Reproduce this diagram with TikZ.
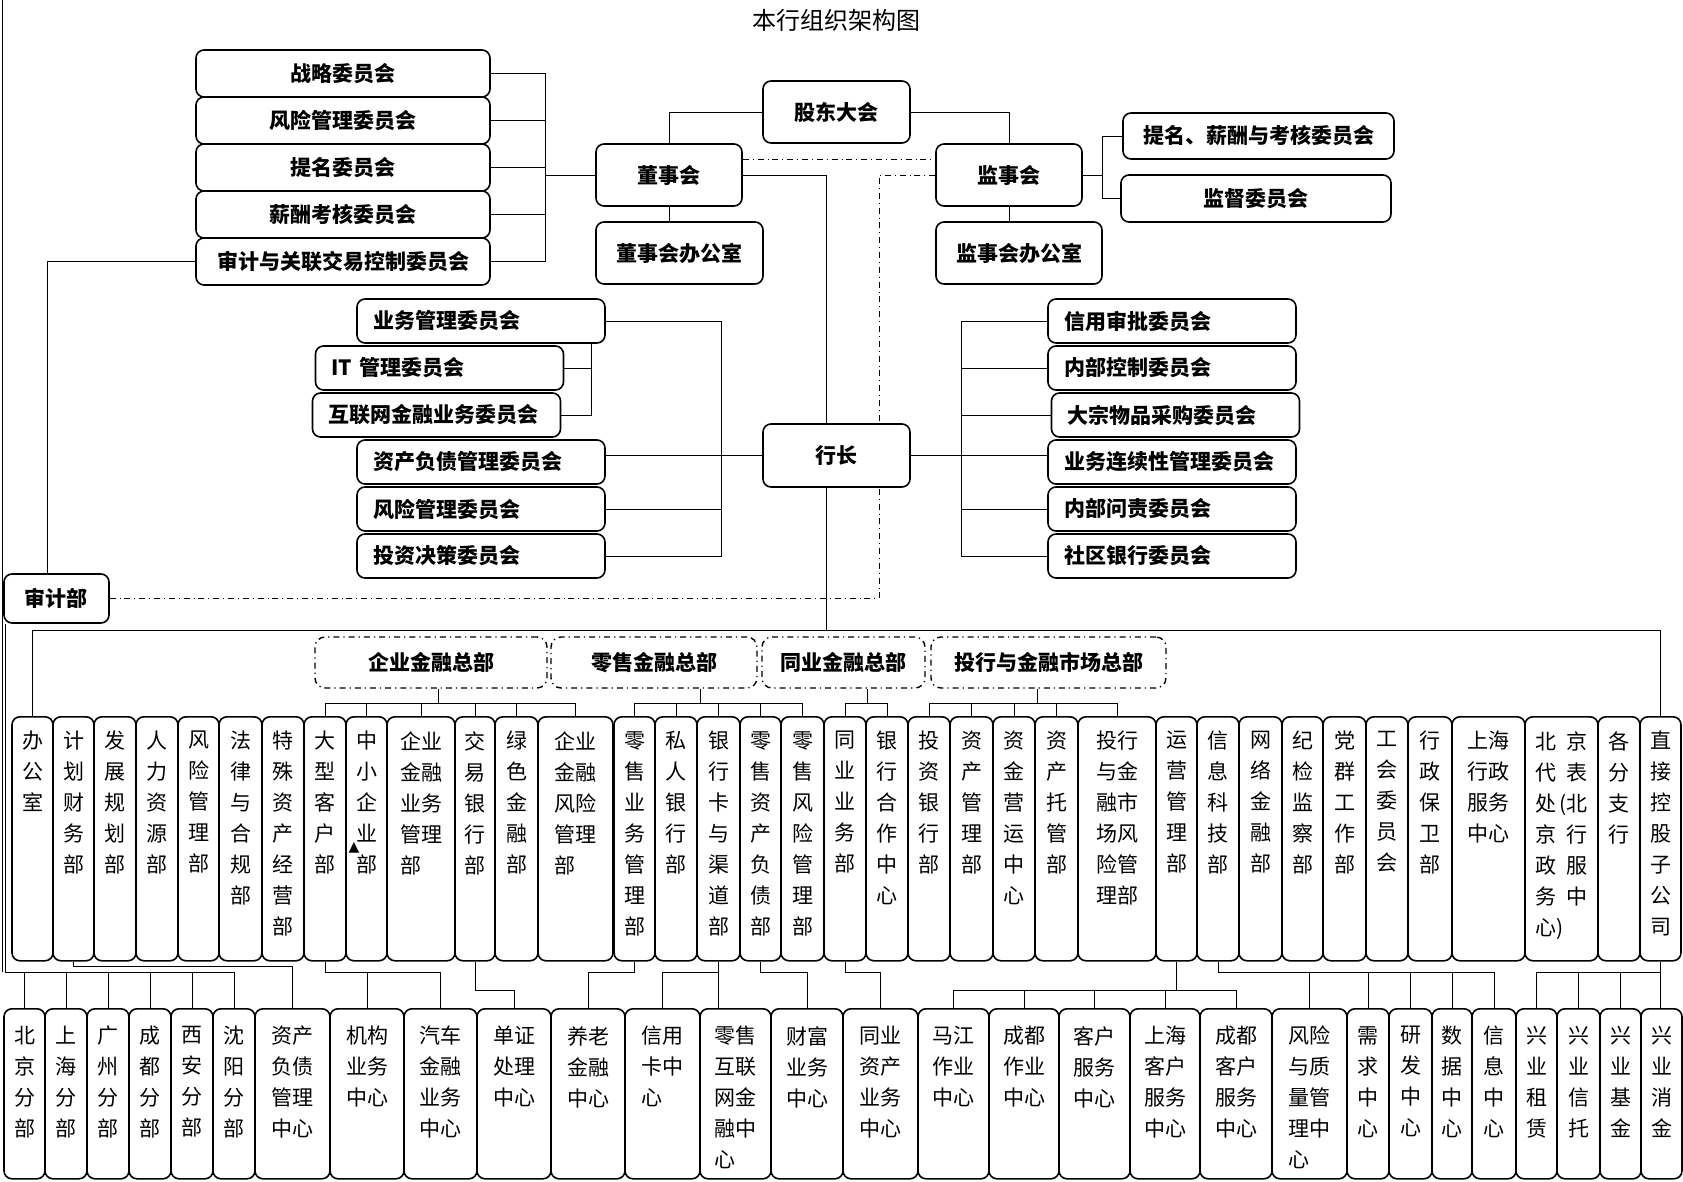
\documentclass[tikz,border=0pt]{standalone}
\usepackage{fontspec}
\setmainfont{Noto Sans CJK SC}
\newfontfamily\symfont{DejaVu Sans}
\usetikzlibrary{backgrounds}
\tikzset{
  com/.style={draw, fill=white, rounded corners=4pt, line width=0.8pt, inner sep=0pt,
    font=\bfseries\fontsize{10.5}{12}\selectfont},
  lcom/.style={com, minimum width=147pt, minimum height=23.5pt},
  mcom/.style={com, align=left, text width=108pt, inner xsep=8pt, minimum height=22pt},
  grp/.style={draw, fill=white, dashdotted, rounded corners=5pt, line width=0.7pt, inner sep=0pt,
    minimum height=25.5pt, font=\bfseries\fontsize{10.5}{12}\selectfont},
  dept/.style={draw, fill=white, rounded corners=4pt, line width=0.8pt, inner sep=0pt,
    anchor=north, minimum height=122pt},
  subbox/.style={dept, minimum height=85pt},
  vt/.style={anchor=north, align=center, inner sep=0pt, yshift=-7.3pt,
    font=\fontsize{10.5}{15.5}\selectfont},
  vtl/.style={vt, align=left},
  vb/.style={anchor=north, align=center, inner sep=0pt, yshift=-8.8pt,
    font=\fontsize{10.5}{15.5}\selectfont},
  vbl/.style={vb, align=left},
  ttl/.style={inner sep=0pt, font=\fontsize{12}{14}\selectfont}
}

\begin{document}
\begin{tikzpicture}[x=0.5pt, y=-0.5pt, line width=0.6pt]
\useasboundingbox (0,0) rectangle (1683,1182);

\node[ttl] (title) at (836,20) {本行组织架构图};

% board committees
\node[lcom] (zlwy) at (343,73.5) {战略委员会};
\node[lcom] (fxgl) at (343,120.5) {风险管理委员会};
\node[lcom] (tmwy) at (343,167.5) {提名委员会};
\node[lcom] (xckh) at (343,214.5) {薪酬考核委员会};
\node[lcom] (sjgl) at (343,261.5) {审计与关联交易控制委员会};

\node[com, minimum width=73.5pt, minimum height=31pt] (gddh) at (836.5,112) {股东大会};
\node[com, minimum width=73pt, minimum height=31pt] (dsh) at (669,175) {董事会};
\node[com, minimum width=83.5pt, minimum height=31pt] (dshbgs) at (679.5,253) {董事会办公室};
\node[com, minimum width=73pt, minimum height=31pt] (jsh) at (1009,175) {监事会};
\node[com, minimum width=83pt, minimum height=31pt] (jshbgs) at (1019,253) {监事会办公室};
\node[com, minimum width=135.5pt, minimum height=23pt] (tmxc) at (1258.5,136) {提名、薪酬与考核委员会};
\node[com, minimum width=135pt, minimum height=23.5pt] (jdwy) at (1256,198.5) {监督委员会};
\node[com, minimum width=73.5pt, minimum height=31.5pt] (hz) at (836.5,455.5) {行长};
\node[com, minimum width=52.5pt, minimum height=24.5pt] (sjb) at (56.5,598.5) {审计部};

% president committees
\node[mcom] (ywgl) at (481,321) {业务管理委员会};
\node[mcom] (itgl) at (439.5,368) {IT 管理委员会};
\node[mcom] (hlw) at (436.5,415) {互联网金融业务委员会};
\node[mcom] (zcfz) at (481,462) {资产负债管理委员会};
\node[mcom] (fxgl2) at (481,509) {风险管理委员会};
\node[mcom] (tzjc) at (481,556) {投资决策委员会};

\node[mcom] (xysp) at (1172,321) {信用审批委员会};
\node[mcom] (nbkz) at (1172,368) {内部控制委员会};
\node[mcom] (dzcg) at (1175.5,415) {大宗物品采购委员会};
\node[mcom] (ywlx) at (1172,462) {业务连续性管理委员会};
\node[mcom] (nbwz) at (1172,509) {内部问责委员会};
\node[mcom] (sqyh) at (1172,556) {社区银行委员会};

% head offices
\node[grp, minimum width=116pt] (qyzb) at (431,662.5) {企业金融总部};
\node[grp, minimum width=103pt] (lszb) at (654,662.5) {零售金融总部};
\node[grp, minimum width=81.5pt] (tyzb) at (843.5,662.5) {同业金融总部};
\node[grp, minimum width=117.5pt] (thzb) at (1048.5,662.5) {投行与金融市场总部};

% departments
\node[dept, minimum width=20.5pt, label={[vt]north:{办\\公\\室}}] (bgs) at (32.5,716) {};
\node[dept, minimum width=20.5pt, label={[vt]north:{计\\划\\财\\务\\部}}] (jhcw) at (73.5,716) {};
\node[dept, minimum width=21pt, label={[vt]north:{发\\展\\规\\划\\部}}] (fzgh) at (115,716) {};
\node[dept, minimum width=21pt, label={[vt]north:{人\\力\\资\\源\\部}}] (rlzy) at (157,716) {};
\node[dept, minimum width=20.5pt, label={[vt]north:{风\\险\\管\\理\\部}}] (fxglb) at (198.5,716) {};
\node[dept, minimum width=21.5pt, label={[vt]north:{法\\律\\与\\合\\规\\部}}] (flhg) at (240.5,716) {};
\node[dept, minimum width=21pt, label={[vt]north:{特\\殊\\资\\产\\经\\营\\部}}] (tszc) at (283,716) {};
\node[dept, minimum width=21pt, label={[vt]north:{大\\型\\客\\户\\部}}] (dxkh) at (325,716) {};
\node[dept, minimum width=20.5pt, label={[vt]north:{中\\小\\企\\业\\部}}] (zxqy) at (366.5,716) {};
\node[dept, minimum width=34pt, label={[vtl]north:{企业\\金融\\业务\\管理\\部}}] (qyyw) at (421,716) {};
\node[dept, minimum width=20pt, label={[vt]north:{交\\易\\银\\行\\部}}] (jyyh) at (475,716) {};
\node[dept, minimum width=21.5pt, label={[vt]north:{绿\\色\\金\\融\\部}}] (lsjr) at (516.5,716) {};
\node[dept, minimum width=37.5pt, label={[vtl]north:{企业\\金融\\风险\\管理\\部}}] (qyfx) at (575.5,716) {};
\node[dept, minimum width=20.5pt, label={[vt]north:{零\\售\\业\\务\\管\\理\\部}}] (lsyw) at (634.5,716) {};
\node[dept, minimum width=21pt, label={[vt]north:{私\\人\\银\\行\\部}}] (sryh) at (676,716) {};
\node[dept, minimum width=21.5pt, label={[vt]north:{银\\行\\卡\\与\\渠\\道\\部}}] (yhk) at (718.5,716) {};
\node[dept, minimum width=20.5pt, label={[vt]north:{零\\售\\资\\产\\负\\债\\部}}] (lszc) at (760.5,716) {};
\node[dept, minimum width=21.5pt, label={[vt]north:{零\\售\\风\\险\\管\\理\\部}}] (lsfx) at (802.5,716) {};
\node[dept, minimum width=21pt, label={[vt]north:{同\\业\\业\\务\\部}}] (tyyw) at (845,716) {};
\node[dept, minimum width=21pt, label={[vt]north:{银\\行\\合\\作\\中\\心}}] (yhhz) at (887,716) {};
\node[dept, minimum width=21pt, label={[vt]north:{投\\资\\银\\行\\部}}] (tzyh) at (929,716) {};
\node[dept, minimum width=21.5pt, label={[vt]north:{资\\产\\管\\理\\部}}] (zcgl) at (971.5,716) {};
\node[dept, minimum width=21pt, label={[vt]north:{资\\金\\营\\运\\中\\心}}] (zjyy) at (1014,716) {};
\node[dept, minimum width=21.5pt, label={[vt]north:{资\\产\\托\\管\\部}}] (zctg) at (1056.5,716) {};
\node[dept, minimum width=39pt, label={[vtl]north:{投行\\与金\\融市\\场风\\险管\\理部}}] (thfx) at (1117,716) {};
\node[dept, minimum width=20.5pt, label={[vt]north:{运\\营\\管\\理\\部}}] (yygl) at (1176.5,716) {};
\node[dept, minimum width=21pt, label={[vt]north:{信\\息\\科\\技\\部}}] (xxkj) at (1218,716) {};
\node[dept, minimum width=21.5pt, label={[vt]north:{网\\络\\金\\融\\部}}] (wljr) at (1260.5,716) {};
\node[dept, minimum width=20.5pt, label={[vt]north:{纪\\检\\监\\察\\部}}] (jjjc) at (1302.5,716) {};
\node[dept, minimum width=21.5pt, label={[vt]north:{党\\群\\工\\作\\部}}] (dqgz) at (1344.5,716) {};
\node[dept, minimum width=21pt, label={[vt]north:{工\\会\\委\\员\\会}}] (ghwy) at (1387,716) {};
\node[dept, minimum width=22pt, label={[vt]north:{行\\政\\保\\卫\\部}}] (xzbw) at (1430,716) {};
\node[dept, minimum width=36.5pt, label={[vtl]north:{上海\\行政\\服务\\中心}}] (shxz) at (1488.5,716) {};
\node[dept, minimum width=36.5pt, label={[vtl]north:{北\hspace{5pt}京\\代\hspace{5pt}表\\处\makebox[5pt][r]{(}北\\京\hspace{5pt}行\\政\hspace{5pt}服\\务\hspace{5pt}中\\心)}}] (bjdb) at (1561.5,716) {};
\node[dept, minimum width=21pt, label={[vt]north:{各\\分\\支\\行}}] (gfzh) at (1619,716) {};
\node[dept, minimum width=20.5pt, label={[vt]north:{直\\接\\控\\股\\子\\公\\司}}] (zkgs) at (1660.5,716) {};

\node[inner sep=0pt, font=\symfont\fontsize{7}{7}\selectfont] (tri) at (354,848) {▲};

% centres and branches
\node[subbox, minimum width=20.5pt, label={[vb]north:{北\\京\\分\\部}}] (bjfb) at (24.5,1008) {};
\node[subbox, minimum width=21pt, label={[vb]north:{上\\海\\分\\部}}] (shfb) at (66,1008) {};
\node[subbox, minimum width=21pt, label={[vb]north:{广\\州\\分\\部}}] (gzfb) at (108,1008) {};
\node[subbox, minimum width=21pt, label={[vb]north:{成\\都\\分\\部}}] (cdfb) at (150,1008) {};
\node[subbox, minimum width=21pt, label={[vb]north:{西\\安\\分\\部}}] (xafb) at (192,1008) {};
\node[subbox, minimum width=21pt, label={[vb]north:{沈\\阳\\分\\部}}] (syfb) at (234,1008) {};
\node[subbox, minimum width=37.5pt, label={[vb]north:{资产\\负债\\管理\\中心}}] (zcfzzx) at (292.5,1008) {};
\node[subbox, minimum width=37pt, label={[vb]north:{机构\\业务\\中心}}] (jgyw) at (367,1008) {};
\node[subbox, minimum width=36.5pt, label={[vb]north:{汽车\\金融\\业务\\中心}}] (qcjr) at (440.5,1008) {};
\node[subbox, minimum width=37pt, label={[vb]north:{单证\\处理\\中心}}] (dzcl) at (514,1008) {};
\node[subbox, minimum width=37pt, label={[vb]north:{养老\\金融\\中心}}] (yljr) at (588,1008) {};
\node[subbox, minimum width=37.5pt, label={[vbl]north:{信用\\卡中\\心}}] (xykzx) at (662.5,1008) {};
\node[subbox, minimum width=35.5pt, label={[vbl]north:{零售\\互联\\网金\\融中\\心}}] (lshlw) at (735.5,1008) {};
\node[subbox, minimum width=36pt, label={[vb]north:{财富\\业务\\中心}}] (cfyw) at (807,1008) {};
\node[subbox, minimum width=37.5pt, label={[vb]north:{同业\\资产\\业务\\中心}}] (tyzc) at (880.5,1008) {};
\node[subbox, minimum width=35.5pt, label={[vb]north:{马江\\作业\\中心}}] (mjzy) at (953.5,1008) {};
\node[subbox, minimum width=35pt, label={[vb]north:{成都\\作业\\中心}}] (cdzy) at (1024,1008) {};
\node[subbox, minimum width=35.5pt, label={[vb]north:{客户\\服务\\中心}}] (khfw) at (1094.5,1008) {};
\node[subbox, minimum width=35pt, label={[vb]north:{上海\\客户\\服务\\中心}}] (shkh) at (1165,1008) {};
\node[subbox, minimum width=36pt, label={[vb]north:{成都\\客户\\服务\\中心}}] (cdkh) at (1236,1008) {};
\node[subbox, minimum width=37.5pt, label={[vbl]north:{风险\\与质\\量管\\理中\\心}}] (fxzl) at (1309.5,1008) {};
\node[subbox, minimum width=21pt, label={[vb]north:{需\\求\\中\\心}}] (xqzx) at (1368,1008) {};
\node[subbox, minimum width=21.5pt, label={[vb]north:{研\\发\\中\\心}}] (yfzx) at (1410.5,1008) {};
\node[subbox, minimum width=20pt, label={[vb]north:{数\\据\\中\\心}}] (sjzx) at (1452,1008) {};
\node[subbox, minimum width=22pt, label={[vb]north:{信\\息\\中\\心}}] (xxzx) at (1494,1008) {};
\node[subbox, minimum width=20.5pt, label={[vb]north:{兴\\业\\租\\赁}}] (xyzl) at (1536.5,1008) {};
\node[subbox, minimum width=21.5pt, label={[vb]north:{兴\\业\\信\\托}}] (xyxt) at (1578.5,1008) {};
\node[subbox, minimum width=20.5pt, label={[vb]north:{兴\\业\\基\\金}}] (xyjj) at (1620.5,1008) {};
\node[subbox, minimum width=20.5pt, label={[vb]north:{兴\\业\\消\\金}}] (xyxj) at (1661.5,1008) {};

\begin{scope}[on background layer]
\coordinate (edge) at (2,0);
\coordinate (sjv) at (47,0);
\coordinate (bkl) at (545,0);
\coordinate (bki) at (591,0);
\coordinate (bkm) at (721,0);
\coordinate (trunk) at (826,0);
\coordinate (jsv) at (879,0);
\coordinate (bkr) at (961,0);
\coordinate (bkj) at (1102,0);
\coordinate (bar) at (0,630);
\coordinate (gb) at (0,703);
\coordinate (jb) at (0,966);
\coordinate (fb) at (0,972);
\coordinate (yb) at (0,990);

% board
\draw (gddh.west) -| (dsh.north);
\draw (gddh.east) -| (jsh.north);
\draw (dsh.south) -- (dsh.south |- dshbgs.north);
\draw (jsh.south) -- (jsh.south |- jshbgs.north);
\draw[dashdotted] ([yshift=8pt]dsh.east) -- ([yshift=8pt]jsh.west);
\draw (zlwy.east) -| (bkl |- sjgl.east) -- (sjgl.east);
\draw (fxgl.east) -- (bkl |- fxgl.east);
\draw (tmwy.east) -- (bkl |- tmwy.east);
\draw (xckh.east) -- (bkl |- xckh.east);
\draw (bkl |- dsh.west) -- (dsh.west);
\draw (jsh.east) -- (bkj |- jsh.east);
\draw (tmxc.west) -| (bkj |- jdwy.west) -- (jdwy.west);
\draw (dsh.east) -| (trunk |- hz.north);
\draw[dashdotted] (jsh.west) -| (jsv |- sjb.east) -- (sjb.east);
\draw (sjgl.west) -| (sjv |- sjb.north);

% president
\draw (ywgl.east) -| (bkm |- tzjc.east) -- (tzjc.east);
\draw (fxgl2.east) -- (bkm |- fxgl2.east);
\draw (hz.west) -- (zcfz.east |- hz.west);
\draw (bki |- ywgl.south) |- (hlw.east);
\draw (itgl.east) -- (bki |- itgl.east);
\draw (xysp.west) -| (bkr |- sqyh.west) -- (sqyh.west);
\draw (nbkz.west) -- (bkr |- nbkz.west);
\draw (dzcg.west) -- (bkr |- dzcg.west);
\draw (nbwz.west) -- (bkr |- nbwz.west);
\draw (hz.east) -- (ywlx.west |- hz.east);
\draw (trunk |- hz.south) -- (trunk |- bar);
\draw (bgs.north) |- (zkgs.north |- bar) -- (zkgs.north);

% head offices
\coordinate (qys) at ([xshift=3.5pt]qyzb.south);
\coordinate (lss) at ([xshift=23pt]lszb.south);
\coordinate (tys) at ([xshift=12pt]tyzb.south);
\coordinate (ths) at ([xshift=-5.75pt]thzb.south);
\draw (qys) -- (qys |- gb);
\draw (dxkh.north) |- (qyfx.north |- gb) -- (qyfx.north);
\draw (zxqy.north) -- (zxqy.north |- gb);
\draw (qyyw.north) -- (qyyw.north |- gb);
\draw (jyyh.north) -- (jyyh.north |- gb);
\draw (lsjr.north) -- (lsjr.north |- gb);
\draw (lss) -- (lss |- gb);
\draw (lsyw.north) |- (lsfx.north |- gb) -- (lsfx.north);
\draw (sryh.north) -- (sryh.north |- gb);
\draw (yhk.north) -- (yhk.north |- gb);
\draw (lszc.north) -- (lszc.north |- gb);
\draw (tys) -- (tys |- gb);
\draw (tyyw.north) |- (yhhz.north |- gb) -- (yhhz.north);
\draw (ths) -- (ths |- gb);
\draw (tzyh.north) |- (thfx.north |- gb) -- (thfx.north);
\draw (zcgl.north) -- (zcgl.north |- gb);
\draw (zjyy.north) -- (zjyy.north |- gb);
\draw (zctg.north) -- (zctg.north |- gb);

% lower row
\draw (edge) -- (edge |- fb);
\draw ([xshift=1pt]sjb.south west) |- (syfb.north |- fb) -- (syfb.north);
\draw (bjfb.north) -- (bjfb.north |- fb);
\draw (shfb.north) -- (shfb.north |- fb);
\draw (gzfb.north) -- (gzfb.north |- fb);
\draw (cdfb.north) -- (cdfb.north |- fb);
\draw (xafb.north) -- (xafb.north |- fb);
\draw (jhcw.south) |- (zcfzzx.north |- jb) -- (zcfzzx.north);
\draw (dxkh.south) |- (qcjr.north |- fb) -- (qcjr.north);
\draw (jgyw.north) -- (jgyw.north |- fb);
\draw (jyyh.south) |- (dzcl.north |- yb) -- (dzcl.north);
\draw (lsyw.south) |- (yljr.north |- fb) -- (yljr.north);
\draw (yhk.south) -- (yhk.south |- lshlw.north);
\draw (yhk.south |- fb) -| (xykzx.north);
\draw (lszc.south) |- (cfyw.north |- fb) -- (cfyw.north);
\draw (tyyw.south) |- (tyzc.north |- fb) -- (tyzc.north);
\draw (yygl.south) -- (yygl.south |- yb);
\draw (mjzy.north) |- (cdkh.north |- yb) -- (cdkh.north);
\draw (cdzy.north) -- (cdzy.north |- yb);
\draw (khfw.north) -- (khfw.north |- yb);
\draw (shkh.north) -- (shkh.north |- yb);
\draw (xxkj.south) |- (xxzx.north |- fb) -- (xxzx.north);
\draw (fxzl.north) -- (fxzl.north |- fb);
\draw (xqzx.north) -- (xqzx.north |- fb);
\draw (yfzx.north) -- (yfzx.north |- fb);
\draw (sjzx.north) -- (sjzx.north |- fb);
\draw (zkgs.south) -- (zkgs.south |- xyxj.north);
\draw (xyzl.north) |- (zkgs.south |- fb);
\draw (xyxt.north) -- (xyxt.north |- fb);
\draw (xyjj.north) -- (xyjj.north |- fb);
\end{scope}
\end{tikzpicture}
\end{document}
